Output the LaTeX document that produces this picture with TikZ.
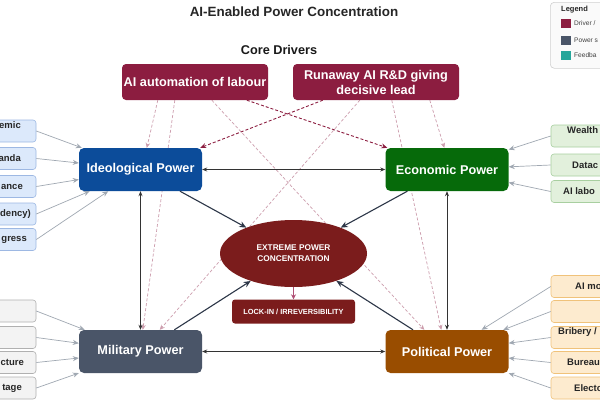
\documentclass[tikz,border=0pt]{standalone}
\usepackage{fontspec}
\setmainfont{Liberation Sans}
\usetikzlibrary{shapes.geometric,arrows.meta,calc}
\pgfdeclarelayer{background}
\pgfsetlayers{background,main}
\definecolor{drv}{RGB}{140,29,64}
\definecolor{ideoc}{RGB}{12,76,154}
\definecolor{ecoc}{RGB}{6,106,10}
\definecolor{milc}{RGB}{74,85,104}
\definecolor{polc}{RGB}{153,77,0}
\definecolor{extc}{RGB}{123,28,28}
\definecolor{tealc}{RGB}{38,166,154}
\definecolor{pinkd}{RGB}{205,158,174}
\definecolor{grayar}{RGB}{160,168,178}
\definecolor{slatec}{RGB}{45,55,72}
\definecolor{bluefill}{RGB}{220,233,251}
\definecolor{blueline}{RGB}{157,184,227}
\definecolor{grayfill}{RGB}{243,243,243}
\definecolor{grayline}{RGB}{176,176,176}
\definecolor{greenfill}{RGB}{226,240,220}
\definecolor{greenline}{RGB}{168,207,160}
\definecolor{orangefill}{RGB}{253,235,207}
\definecolor{orangeline}{RGB}{240,194,122}
\definecolor{lockar}{RGB}{176,80,117}
\begin{document}
\begin{tikzpicture}[x=1pt,y=-1pt,
  power/.style={rectangle, rounded corners=5pt, minimum width=123pt, minimum height=43pt,
    text=white, font=\fontsize{12.7}{15}\selectfont\bfseries, inner sep=0pt},
  driver/.style={rectangle, rounded corners=4pt, fill=drv, text=white, align=center,
    font=\fontsize{12.7}{15}\selectfont\bfseries, inner sep=0pt, minimum height=36pt},
  inbox/.style={rectangle, rounded corners=3pt, minimum height=22pt, minimum width=100pt,
    line width=0.6pt, inner sep=0pt},
  bluebox/.style={inbox, fill=bluefill, draw=blueline},
  graybox/.style={inbox, fill=grayfill, draw=grayline},
  greenbox/.style={inbox, fill=greenfill, draw=greenline},
  orangebox/.style={inbox, fill=orangefill, draw=orangeline},
  intext/.style={font=\fontsize{9.5}{11}\selectfont\bfseries, text=black!85, inner sep=0pt},
  feed/.style={draw=grayar, line width=0.7pt, -{Stealth[length=6pt,width=5pt]}},
  mutual/.style={draw=black!80, line width=0.7pt, {Stealth[length=5pt,width=4pt]}-{Stealth[length=5pt,width=4pt]}},
  toext/.style={draw=slatec, line width=1.1pt, -{Stealth[length=7pt,width=6pt]}},
  drvlight/.style={draw=pinkd, line width=0.7pt, dash pattern=on 3pt off 2pt, -{Stealth[length=5pt,width=4.5pt]}},
  drvdark/.style={draw=drv, line width=0.9pt, dash pattern=on 3pt off 2pt, -{Stealth[length=6pt,width=5pt]}},
  swatch/.style={rectangle, minimum width=10pt, minimum height=9pt, inner sep=0pt},
  legtext/.style={font=\fontsize{6.6}{8}\selectfont, text=black!75, inner sep=0pt, anchor=west}
]
\useasboundingbox (0,0) rectangle (600,400);
\begin{pgfonlayer}{background}
\fill[white] (0,0) rectangle (600,400);
\end{pgfonlayer}

% title
\node (title) [font=\fontsize{13.4}{16}\selectfont\bfseries, text=black!85] at (294,12) {AI-Enabled Power Concentration};
\node (core) [font=\fontsize{12.7}{15}\selectfont\bfseries, text=black!90] at (279,50) {Core Drivers};

% drivers
\node (d1) [driver, minimum width=146pt] at (195,82) {AI automation of labour};
\node (d2) [driver, minimum width=166pt] at (376,82) {Runaway AI R\&D giving\\decisive lead};

% power nodes
\node (ideo) [power, fill=ideoc] at (140.5,169.5) {Ideological Power};
\node (eco) [power, fill=ecoc] at (447,169.5) {Economic Power};
\node (mil) [power, fill=milc] at (140.5,351.5) {Military Power};
\node (pol) [power, fill=polc] at (447,351.5) {Political Power};

% core
\node (ext) [ellipse, fill=extc, minimum width=147pt, minimum height=67pt, inner sep=0pt,
  text=white, align=center, font=\fontsize{8.3}{11}\selectfont\bfseries] at (293.5,253.5) {EXTREME POWER\\CONCENTRATION};
\node (lock) [rectangle, rounded corners=3pt, fill=extc, minimum width=123pt, minimum height=24pt,
  inner sep=0pt, text=white, font=\fontsize{7.4}{9}\selectfont\bfseries] at (293.5,311.5) {LOCK-IN / IRREVERSIBILITY};

% ideological inputs
\node (i1) [bluebox] at (-14,131) {};
\node (i2) [bluebox] at (-14,158.5) {};
\node (i3) [bluebox] at (-14,186.5) {};
\node (i4) [bluebox] at (-14,214) {};
\node (i5) [bluebox] at (-14,239.5) {};
\node (ti1) [intext, anchor=east] at (21,125) {emic};
\node (ti2) [intext, anchor=east] at (21,158.5) {anda};
\node (ti3) [intext, anchor=east] at (23,186.5) {ance};
\node (ti4) [intext, anchor=east] at (31,214) {dency)};
\node (ti5) [intext, anchor=east] at (27,239.5) {gress};

% military inputs
\node (m1) [graybox] at (-14,311) {};
\node (m2) [graybox] at (-14,337.5) {};
\node (m3) [graybox] at (-14,362.5) {};
\node (m4) [graybox] at (-14,388) {};
\node (tm3) [intext, anchor=east] at (24,362.5) {cture};
\node (tm4) [intext, anchor=east] at (22,388) {tage};

% economic inputs
\node (e1) [greenbox] at (601,136) {};
\node (e2) [greenbox] at (601,165) {};
\node (e3) [greenbox] at (601,191.5) {};
\node (te1) [intext, anchor=west] at (567,130) {Wealth};
\node (te2) [intext, anchor=west] at (572,165) {Datac};
\node (te3) [intext, anchor=west] at (563,191.5) {AI labo};

% political inputs
\node (p1) [orangebox] at (601,286.5) {};
\node (p2) [orangebox] at (601,311.5) {};
\node (p3) [orangebox] at (601,337.5) {};
\node (p4) [orangebox] at (601,362.5) {};
\node (p5) [orangebox] at (601,388) {};
\node (tp1) [intext, anchor=west] at (575,286.5) {AI mo};
\node (tp3) [intext, anchor=west] at (558,332) {Bribery /};
\node (tp4) [intext, anchor=west] at (567,362.5) {Bureau};
\node (tp5) [intext, anchor=west] at (574,388) {Electo};

% legend
\node (leg) [rectangle, rounded corners=4pt, draw=black!18, fill=black!2, line width=0.6pt,
  minimum width=70pt, minimum height=66pt, anchor=north west, inner sep=0pt] at (550,2) {};
\node (legt) [font=\fontsize{7.5}{9}\selectfont\bfseries, text=black!85, anchor=west, inner sep=0pt] at (561,10) {Legend};
\node (s1) [swatch, fill=drv] at (566,23.5) {};
\node (s2) [swatch, fill=milc] at (566,40) {};
\node (s3) [swatch, fill=tealc] at (566,55) {};
\node (l1) [legtext] at (574,23.5) {Driver /};
\node (l2) [legtext] at (574,40) {Power s};
\node (l3) [legtext] at (574,55) {Feedba};

% driver influences (behind boxes)
\begin{pgfonlayer}{background}
\draw[drvlight] ($(d1.south west)+(36,0)$) -- ($(ideo.north west)+(68,0)$);
\draw[drvlight] ($(d1.south west)+(53,0)$) -- ($(mil.north west)+(64,0)$);
\draw[drvlight] ($(d1.south west)+(90,0)$) -- ($(pol.north west)+(39,0)$);
\draw[drvdark]  ($(d1.south west)+(125,0)$) -- ($(eco.north west)+(2,0)$);
\draw[drvdark]  ($(d2.south west)+(30,0)$) -- ($(ideo.north east)+(-2,0)$);
\draw[drvlight] ($(d2.south west)+(67,0)$) -- ($(mil.north west)+(81,0)$);
\draw[drvlight] ($(d2.south west)+(99,0)$) -- ($(pol.north west)+(56,0)$);
\draw[drvlight] ($(d2.south west)+(137,0)$) -- ($(eco.north west)+(59,0)$);
\end{pgfonlayer}

% inputs to power
\foreach \n in {i1,i2,i3,i4,i5} \draw[feed] (\n.east) -- (ideo);
\foreach \n in {m1,m2,m3,m4} \draw[feed] (\n.east) -- (mil);
\foreach \n in {e1,e2,e3} \draw[feed] (\n.west) -- (eco);
\foreach \n in {p1,p2,p3,p4,p5} \draw[feed] (\n.west) -- (pol);

% mutual reinforcement
\draw[mutual] (ideo) -- (eco);
\draw[mutual] (mil) -- (pol);
\draw[mutual] (ideo) -- (mil);
\draw[mutual] (eco) -- (pol);

% to core
\draw[toext] (ideo) -- (ext);
\draw[toext] (eco) -- (ext);
\draw[toext] (mil) -- (ext);
\draw[toext] (pol) -- (ext);
\draw[draw=lockar, line width=1pt, -{Stealth[length=5pt,width=5pt]}] (ext) -- (lock);
\end{tikzpicture}
\end{document}
